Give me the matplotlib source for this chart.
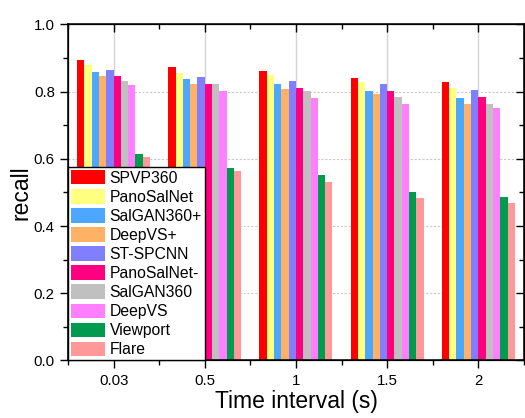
import numpy as np
import matplotlib
matplotlib.use("Agg")
import matplotlib.pyplot as plt
from matplotlib.ticker import MultipleLocator, FixedLocator

plt.rcParams['font.family'] = ['Liberation Sans', 'DejaVu Sans']

# data
intervals = ["0.03", "0.5", "1", "1.5", "2"]
methods = ["SPVP360", "PanoSalNet", "SalGAN360+", "DeepVS+", "ST-SPCNN",
           "PanoSalNet-", "SalGAN360", "DeepVS", "Viewport", "Flare"]
colors = ["#FF0000", "#FFFF80", "#4DA6FF", "#FFB266", "#8080FF",
          "#FF0080", "#C0C0C0", "#FF80FF", "#009B4E", "#FF9999"]

spvp360 = [0.895, 0.873, 0.861, 0.840, 0.828]
panosalnet = [0.878, 0.855, 0.848, 0.828, 0.811]
salgan360p = [0.858, 0.836, 0.821, 0.801, 0.782]
deepvsp = [0.846, 0.822, 0.807, 0.793, 0.762]
st_spcnn = [0.864, 0.842, 0.832, 0.821, 0.806]
panosalnet_m = [0.845, 0.821, 0.811, 0.801, 0.784]
salgan360 = [0.831, 0.821, 0.801, 0.785, 0.762]
deepvs = [0.818, 0.801, 0.782, 0.764, 0.751]
viewport = [0.613, 0.574, 0.551, 0.502, 0.486]
flare = [0.605, 0.564, 0.531, 0.482, 0.467]

series = [spvp360, panosalnet, salgan360p, deepvsp, st_spcnn,
          panosalnet_m, salgan360, deepvs, viewport, flare]

fig = plt.figure(figsize=(5.25, 4.18), dpi=100)
ax = fig.add_axes([0.1295, 0.1376, 0.8685, 0.8043])

x = np.arange(len(intervals))
w = 0.08
for i, (name, vals, c) in enumerate(zip(methods, series, colors)):
    ax.bar(x + (i - 4.5) * w, vals, width=w, color=c, label=name, zorder=2)

ax.set_xlim(-0.5, len(intervals) - 0.5)
ax.set_ylim(0, 1.0)
ax.set_xticks(x)
ax.set_xticklabels(intervals)
ax.xaxis.set_minor_locator(FixedLocator(np.arange(-0.5, len(intervals), 1.0)))
ax.yaxis.set_major_locator(MultipleLocator(0.2))
ax.yaxis.set_minor_locator(MultipleLocator(0.1))
ax.set_yticklabels([f"{v:.1f}" for v in ax.get_yticks()])

ax.xaxis.grid(True, which='major', color='#D4D4D4', linewidth=1.0, zorder=0)
ax.yaxis.grid(True, which='major', color='#C8C8C8', linewidth=0.8,
              linestyle=(0, (2, 1.5)), zorder=0)
ax.set_axisbelow(True)

ax.tick_params(which='major', direction='out', length=6, width=1.0,
               labelsize=10.8, colors='black')
ax.tick_params(which='minor', direction='out', length=3.5, width=1.0)
for s in ax.spines.values():
    s.set_linewidth(1.1)

# inward ticks on top and right
axt = ax.twiny()
axt.set_xlim(ax.get_xlim())
axt.set_xticks(x)
axt.xaxis.set_minor_locator(FixedLocator(np.arange(-0.5, len(intervals), 1.0)))
axt.tick_params(axis='x', which='major', direction='in', length=6, width=1.0, labeltop=False)
axt.tick_params(axis='x', which='minor', direction='in', length=3.5, width=1.0)
axr = ax.twinx()
axr.set_ylim(ax.get_ylim())
axr.yaxis.set_major_locator(MultipleLocator(0.2))
axr.yaxis.set_minor_locator(MultipleLocator(0.1))
axr.tick_params(axis='y', which='major', direction='in', length=6, width=1.0, labelright=False)
axr.tick_params(axis='y', which='minor', direction='in', length=3.5, width=1.0)

ax.set_xlabel("Time interval (s)", fontsize=16.5, labelpad=2)
ax.set_ylabel("recall", fontsize=16.5, labelpad=1)

leg = axr.legend(*ax.get_legend_handles_labels(), loc='lower left',
                 bbox_to_anchor=(0, 0), borderaxespad=0, fontsize=11.3,
                 frameon=True, fancybox=False, edgecolor='black', framealpha=1,
                 handlelength=2.15, handleheight=1.05, handletextpad=0.3,
                 labelspacing=0.22, borderpad=0.2)
leg.get_frame().set_linewidth(1.0)

fig.savefig("out.png", dpi=100)
